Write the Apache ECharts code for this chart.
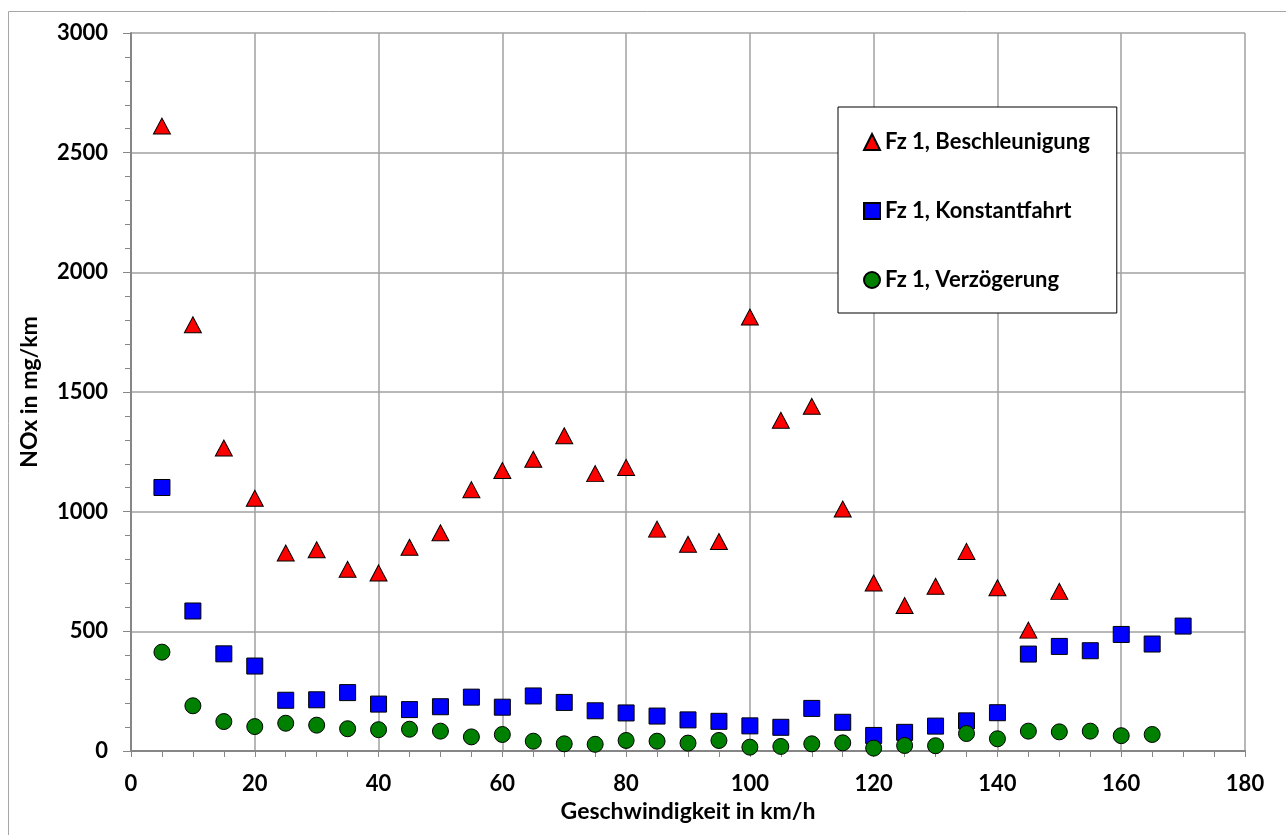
<!DOCTYPE html>
<html>
<head>
<meta charset="utf-8">
<script src="https://cdn.jsdelivr.net/npm/echarts@6/dist/echarts.min.js"></script>
<style>
html,body{margin:0;padding:0;background:#fff;}
#c{width:1286px;height:835px;}
</style>
</head>
<body>
<div id="c"></div>
<script>
var speeds = [5,10,15,20,25,30,35,40,45,50,55,60,65,70,75,80,85,90,95,100,105,110,115,120,125,130,135,140,145,150,155,160,165,170];
var beschleunigung = [2611,1781,1266,1056,827,841,759,744,851,912,1092,1172,1219,1317,1159,1185,927,864,875,1813,1382,1440,1011,702,608,688,834,682,505,667];
var konstantfahrt = [1101,585,406,355,212,214,244,196,173,185,225,183,230,203,168,159,146,130,124,105,99,178,120,65,78,104,126,160,405,437,419,487,447,522];
var verzoegerung = [413,189,123,102,116,108,93,89,91,83,59,69,41,30,28,44,41,33,44,16,19,30,34,12,23,22,73,51,83,80,83,64,69];
var seriesNames = ['Fz 1, Beschleunigung','Fz 1, Konstantfahrt','Fz 1, Verzögerung'];
var xTitle = 'Geschwindigkeit in km/h';
var yTitle = 'NOx in mg/km';

function pairs(vals){ return vals.map(function(v,i){ return [speeds[i], v]; }); }

var font = 'Lato, "Open Sans", sans-serif';
var chart = echarts.init(document.getElementById('c'), null, {renderer:'canvas'});
var gridColor = '#a0a0a0';
chart.setOption({
  animation:false,
  backgroundColor:'#fff',
  graphic:[{type:'rect', shape:{x:8.5,y:11.5,width:1290,height:840}, style:{fill:null, stroke:'#a6a6a6', lineWidth:1}, silent:true}],
  grid:{left:131, right:41, top:33, bottom:84, containLabel:false},
  legend:{
    orient:'vertical', left:838, top:107,
    padding:[24,27,22,25], itemGap:47, itemWidth:16, itemHeight:16,
    borderColor:'#000', borderWidth:1, backgroundColor:'#fff',
    textStyle:{fontFamily:font, fontWeight:'bold', fontSize:22, color:'#000'},
    data:seriesNames
  },
  xAxis:{
    type:'value', min:0, max:180, interval:20,
    name:xTitle, nameLocation:'middle', nameGap:48,
    nameTextStyle:{fontFamily:font, fontWeight:'bold', fontSize:23, color:'#000'},
    axisLine:{show:true, onZero:false, lineStyle:{color:'#868686', width:2}},
    axisTick:{show:true, inside:false, length:6, lineStyle:{color:'#868686'}},
    minorTick:{show:true, splitNumber:4, length:6, lineStyle:{color:'#868686'}},
    axisLabel:{fontFamily:font, fontWeight:'bold', fontSize:22, color:'#000', margin:22},
    splitLine:{show:true, lineStyle:{color:gridColor, width:1.5}}
  },
  yAxis:{
    type:'value', min:0, max:3000, interval:500,
    name:yTitle, nameLocation:'middle', nameGap:90, nameRotate:90,
    nameTextStyle:{fontFamily:font, fontWeight:'bold', fontSize:23, color:'#000'},
    axisLine:{show:true, onZero:false, lineStyle:{color:'#868686', width:2}},
    axisTick:{show:true, inside:false, length:8, lineStyle:{color:'#868686'}},
    minorTick:{show:true, splitNumber:5, length:6, lineStyle:{color:'#868686'}},
    axisLabel:{fontFamily:font, fontWeight:'bold', fontSize:22, color:'#000', margin:23,
      formatter:function(v){ return String(v); }},
    splitLine:{show:true, lineStyle:{color:gridColor, width:1.5}}
  },
  series:[
    {name:seriesNames[0], type:'scatter', symbol:'triangle', symbolSize:[17,16], data:pairs(beschleunigung),
     itemStyle:{color:'#ff0000', borderColor:'#000', borderWidth:1, opacity:1}, z:3},
    {name:seriesNames[1], type:'scatter', symbol:'rect', symbolSize:16, data:pairs(konstantfahrt),
     itemStyle:{color:'#0000ff', borderColor:'#000', borderWidth:1, opacity:1}, z:3},
    {name:seriesNames[2], type:'scatter', symbol:'circle', symbolSize:16, data:pairs(verzoegerung),
     itemStyle:{color:'#008000', borderColor:'#000', borderWidth:1, opacity:1}, z:3}
  ]
});
</script>
</body>
</html>
